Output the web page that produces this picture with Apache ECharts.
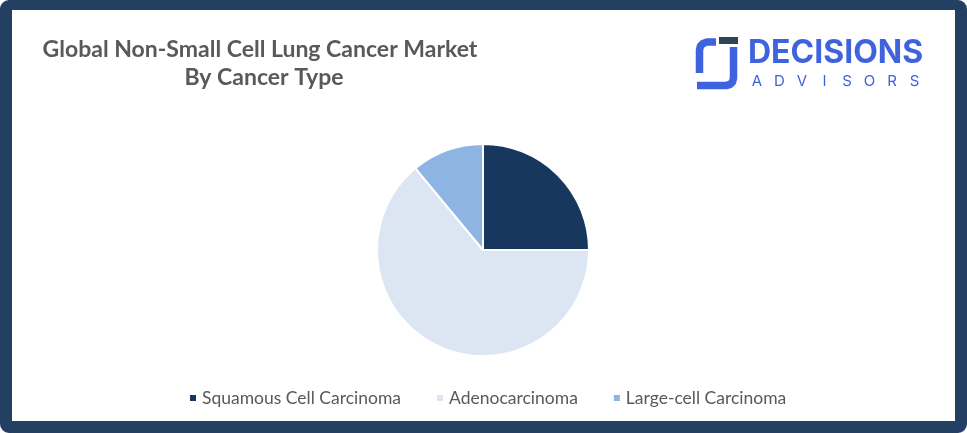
<!DOCTYPE html>
<html>
<head>
<meta charset="utf-8">
<script src="https://cdn.jsdelivr.net/npm/echarts@6/dist/echarts.min.js"></script>
<style>
  html, body { margin: 0; padding: 0; background: #fff; }
  #frame {
    position: absolute; left: 0; top: 0; width: 967px; height: 433px;
    box-sizing: border-box; border-style: solid; border-color: #233f62;
    border-width: 10px 12px 12px 12px; border-radius: 9px; background: #fff;
  }
  #chart { position: absolute; left: 0; top: 0; width: 967px; height: 433px; }
</style>
</head>
<body>
<div id="frame"></div>
<div id="chart"></div>
<script>
// market share by cancer type (%)
const categories = ['Squamous Cell Carcinoma', 'Adenocarcinoma', 'Large-cell Carcinoma']
const shares = [25, 64, 11]
const colors = ['#17375e', '#dce6f2', '#8eb4e3']
const titleLines = ['Global Non-Small Cell Lung Cancer Market', 'By Cancer Type']

const myChart = echarts.init(document.getElementById('chart'))

const logoBlue = '#3f63de'

// spaced-out letters of the logo subtitle
const advisors = 'ADVISORS'.split('').map((ch, i) => ({
  type: 'text',
  x: 757 + i * 22.5,
  y: 74,
  style: {
    text: ch,
    fill: logoBlue,
    font: '15px Inter',
    textAlign: 'center'
  }
}))

myChart.setOption({
  animation: false,
  color: colors,
  legend: {
    data: categories,
    bottom: 21,
    left: 183,
    icon: 'rect',
    itemWidth: 8,
    itemHeight: 8,
    itemGap: 34,
    textStyle: {
      color: '#595959',
      fontSize: 17.5,
      fontFamily: 'Lato'
    }
  },
  graphic: [
    // title
    {
      type: 'text',
      x: 260,
      y: 38,
      style: {
        text: titleLines[0],
        fill: '#595959',
        font: 'bold 23px Lato',
        textAlign: 'center'
      }
    },
    {
      type: 'text',
      x: 264,
      y: 66,
      style: {
        text: titleLines[1],
        fill: '#595959',
        font: 'bold 23px Lato',
        textAlign: 'center'
      }
    },
    // logo icon
    {
      type: 'polyline',
      shape: { points: [[716, 42], [707, 42], [703, 43.5], [700.5, 46], [699.5, 50], [699.5, 73]] },
      style: { stroke: logoBlue, lineWidth: 7.5, fill: null, lineJoin: 'round' }
    },
    {
      type: 'polyline',
      shape: { points: [[697, 85.5], [726, 85.5], [730, 84.5], [732.5, 82], [733.5, 78], [733.5, 47]] },
      style: { stroke: logoBlue, lineWidth: 7.5, fill: null, lineJoin: 'round' }
    },
    {
      type: 'rect',
      shape: { x: 719, y: 37, width: 19, height: 7 },
      style: { fill: '#2e4455' }
    },
    // logo text
    {
      type: 'text',
      x: 748,
      y: 37,
      style: {
        text: 'DECISIONS',
        fill: logoBlue,
        font: 'bold 32px Inter'
      }
    }
  ].concat(advisors),
  series: [{
    name: 'Cancer Type',
    type: 'pie',
    center: [483, 250],
    radius: 106,
    startAngle: 90,
    label: { show: false },
    labelLine: { show: false },
    itemStyle: {
      borderColor: '#fff',
      borderWidth: 2
    },
    data: categories.map((name, i) => ({ name: name, value: shares[i] }))
  }]
})
</script>
</body>
</html>
